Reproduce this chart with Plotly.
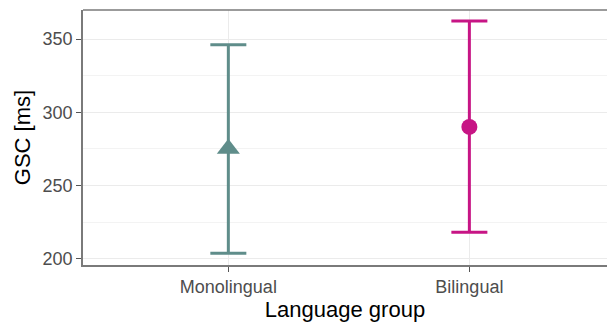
import plotly.graph_objects as go

# Mean GSC per language group with interval bounds
groups = ["Monolingual", "Bilingual"]
means = [275, 290]
lower = [203.7, 218]
upper = [346, 362.3]
colors = ["#5F8D8A", "#C71585"]
symbols = ["triangle-up", "circle"]
sizes = [20, 16]

fig = go.Figure()
for i, g in enumerate(groups):
    fig.add_trace(go.Scatter(
        x=[i + 1], y=[means[i]],
        mode="markers",
        marker=dict(symbol=symbols[i], size=sizes[i], color=colors[i], line=dict(width=0)),
        error_y=dict(type="data", symmetric=False,
                     array=[upper[i] - means[i]], arrayminus=[means[i] - lower[i]],
                     color=colors[i], thickness=3, width=18),
        showlegend=False, name=g,
    ))

# top panel border (the panel runs past the right edge, so no right border)
fig.add_shape(type="line", xref="paper", yref="paper", x0=0, x1=1, y0=1, y1=1,
              line=dict(color="#7A7A7A", width=1.5), layer="above")

font_family = "Liberation Sans, Arial, sans-serif"
fig.update_layout(
    width=607, height=325,
    margin=dict(l=83, r=0, t=10, b=60),
    paper_bgcolor="white", plot_bgcolor="white",
    font=dict(family=font_family),
    xaxis=dict(
        range=[0.397, 2.571],
        tickvals=[1, 2], ticktext=groups,
        showgrid=True, gridcolor="#EBEBEB", gridwidth=1.2,
        zeroline=False,
        showline=True, linecolor="#7A7A7A", linewidth=1.5, mirror=False,
        ticks="outside", ticklen=5, tickcolor="#555555", tickwidth=1.2,
        tickfont=dict(size=18, color="#4D4D4D"),
        title=dict(text="Language group", font=dict(size=22, color="black"), standoff=5),
    ),
    yaxis=dict(
        range=[195.7, 369.8],
        tick0=200, dtick=50,
        showgrid=True, gridcolor="#EBEBEB", gridwidth=1.4,
        minor=dict(dtick=25, tick0=200, showgrid=True, gridcolor="#F3F3F3", gridwidth=0.8),
        zeroline=False,
        showline=True, linecolor="#7A7A7A", linewidth=1.5, mirror=False,
        ticks="outside", ticklen=5, tickcolor="#555555", tickwidth=1.2,
        tickfont=dict(size=18, color="#4D4D4D"),
        title=dict(text="GSC [ms]", font=dict(size=22, color="black"), standoff=6),
    ),
)

fig.write_html("out.html")
